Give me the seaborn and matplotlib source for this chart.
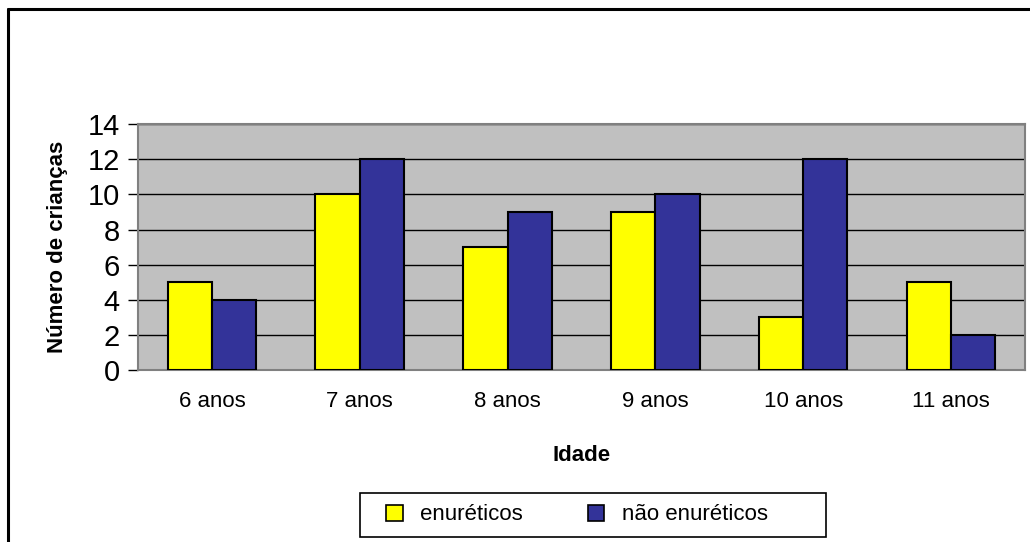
import seaborn as sns
import matplotlib.pyplot as plt
import pandas as pd
from matplotlib.lines import Line2D
from matplotlib.patches import Rectangle

# dados
idades = ["6 anos", "7 anos", "8 anos", "9 anos", "10 anos", "11 anos"]
enureticos = [5, 10, 7, 9, 3, 5]
nao_enureticos = [4, 12, 9, 10, 12, 2]
grupos = ["enuréticos", "não enuréticos"]

df = pd.DataFrame({
    "Idade": idades * 2,
    "valor": enureticos + nao_enureticos,
    "grupo": [grupos[0]] * len(idades) + [grupos[1]] * len(idades),
})

sns.set_style("white")
plt.rcParams["font.family"] = ["Liberation Sans", "DejaVu Sans"]
plt.rcParams.update({"text.color": "black", "axes.labelcolor": "black",
                     "xtick.color": "black", "ytick.color": "black"})

W, H = 1030, 542
fig = plt.figure(figsize=(10.3, 5.42), dpi=100)
ax = fig.add_axes([0.134, 0.317, 0.861, 0.454])
ax.set_facecolor("#C0C0C0")

sns.barplot(df, x="Idade", y="valor", hue="grupo", palette=["#FFFF00", "#333399"],
            width=0.6, edgecolor="black", linewidth=1.5, saturation=1, ax=ax,
            legend=False, zorder=3)

ax.set_ylim(0, 14)
ax.set_yticks(range(0, 15, 2))
ax.set_xlim(-0.5, 5.5)
ax.yaxis.grid(True, color="black", linewidth=1)
ax.set_axisbelow(True)
for s in ax.spines.values():
    s.set_color("#808080")
    s.set_linewidth(1.5)

ax.tick_params(axis="y", labelsize=21, length=7, width=1, direction="out", left=True, pad=6)
ax.tick_params(axis="x", labelsize=16, length=0, pad=15)
ax.set_ylabel("Número de crianças", fontsize=16, fontweight="bold", labelpad=14)
ax.set_xlabel("Idade", fontsize=16, fontweight="bold", labelpad=24)

# legenda com moldura própria
fig.add_artist(Rectangle((360 / W, 1 - 537 / H), 466 / W, 44 / H, transform=fig.transFigure,
                         facecolor="white", edgecolor="black", linewidth=1.2))
handles = [plt.Rectangle((0, 0), 1, 1, facecolor=c, edgecolor="black", linewidth=1.2)
           for c in ["#FFFF00", "#333399"]]
fig.legend(handles, grupos, loc="center", bbox_to_anchor=(577 / W, 1 - 515 / H),
           ncol=2, fontsize=16, frameon=False, handlelength=0.75,
           handleheight=0.75, columnspacing=2.9, handletextpad=0.8)

# moldura da figura
fig.add_artist(Line2D([8 / W, 1], [1 - 9 / H] * 2, color="black", linewidth=2.2, transform=fig.transFigure))
fig.add_artist(Line2D([8 / W] * 2, [0, 1 - 9 / H], color="black", linewidth=2.2, transform=fig.transFigure))

fig.savefig("out.png", dpi=100)
